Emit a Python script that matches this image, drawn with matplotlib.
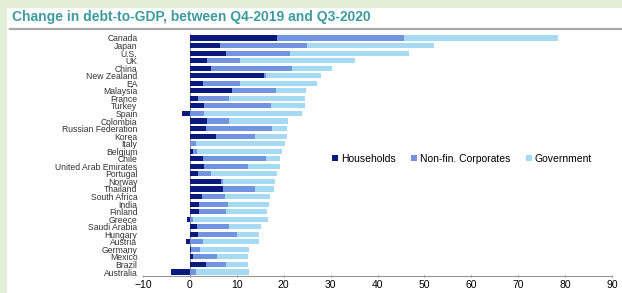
import numpy as np
import matplotlib.pyplot as plt
from matplotlib.patches import Rectangle

plt.rcParams['font.family'] = ['Liberation Sans', 'DejaVu Sans']

countries = ["Canada", "Japan", "U.S.", "UK", "China", "New Zealand", "EA",
             "Malaysia", "France", "Turkey", "Spain", "Colombia",
             "Russian Federation", "Korea", "Italy", "Belgium", "Chile",
             "United Arab Emirates", "Portugal", "Norway", "Thailand",
             "South Africa", "India", "Finland", "Greece", "Saudi Arabia",
             "Hungary", "Austria", "Germany", "Mexico", "Brazil", "Australia"]

households = [18.5, 6.5, 7.8, 3.7, 4.5, 15.8, 2.7, 9.0, 1.8, 2.9, -1.7, 3.7,
              3.4, 5.5, 0.1, 0.6, 2.8, 3.1, 1.8, 6.7, 7.1, 2.5, 2.0, 1.9,
              -0.6, 1.5, 1.7, -0.9, 0.2, 0.7, 3.4, -4.1]
corporates = [27.1, 18.4, 13.6, 6.9, 17.2, 0.5, 7.9, 9.3, 6.6, 14.4, 3.1, 4.7,
              14.1, 8.4, 1.1, 0.9, 13.4, 9.2, 2.7, 0.3, 6.8, 5.0, 6.2, 5.7,
              0.7, 6.9, 8.4, 2.7, 2.0, 5.1, 4.2, 1.2]
government = [32.8, 27.1, 25.3, 24.5, 8.6, 11.7, 16.5, 6.5, 16.2, 7.2, 20.9, 12.6,
              3.1, 6.7, 19.1, 18.2, 3.1, 7.0, 14.0, 11.1, 4.1, 9.6, 8.7, 8.8,
              15.9, 6.7, 4.7, 12.1, 10.4, 6.5, 4.7, 11.4]

c_house = '#0b1a7e'
c_corp = '#7193e0'
c_gov = '#a6daf2'

hh = np.array(households)
co = np.array(corporates)
gv = np.array(government)
base_pos = np.clip(hh, 0, None)
y = np.arange(len(countries))

fig = plt.figure(figsize=(6.22, 2.93), dpi=100)
fig.patch.set_facecolor('#e3eed9')
fig.add_artist(Rectangle((7 / 622, 0), 1, 1 - 8 / 293, transform=fig.transFigure,
                         facecolor='white', edgecolor='none', zorder=0))
fig.add_artist(plt.Line2D([10 / 622, 1], [1 - 28.5 / 293] * 2, transform=fig.transFigure,
                          color='#a8a8a8', lw=1.6))
fig.text(12 / 622, 1 - 16.5 / 293, "Change in debt-to-GDP, between Q4-2019 and Q3-2020",
         color='#3f9b9d', fontsize=10, fontweight='bold', va='center', ha='left')

ax = fig.add_axes([143 / 622, 1 - 275.8 / 293, 469 / 622, 241.6 / 293])
ax.set_facecolor('white')
h = 0.68
ax.barh(y, hh, height=h, color=c_house, label='Households', zorder=3)
ax.barh(y, co, left=base_pos, height=h, color=c_corp, label='Non-fin. Corporates', zorder=3)
ax.barh(y, gv, left=base_pos + co, height=h, color=c_gov, label='Government', zorder=3)

ax.set_xlim(-10, 90)
ax.set_ylim(len(countries) - 0.5, -0.5)
ax.set_xticks(range(-10, 91, 10))
ax.tick_params(axis='x', labelsize=7.5, length=2, direction='inout', color='#888888', pad=2)
ax.set_yticks(y)
ax.set_yticklabels(countries, fontsize=6.2, color='#333333')
ax.tick_params(axis='y', length=0, pad=4)
for s in ['top', 'right', 'left']:
    ax.spines[s].set_visible(False)
ax.spines['bottom'].set_color('#999999')
ax.axvline(0, color='#888888', lw=0.8, zorder=2)

ax.legend(loc='center', bbox_to_anchor=(0.68, 0.485), ncol=3, frameon=False, fontsize=7.5,
          handlelength=0.55, handleheight=0.55, handletextpad=0.3, columnspacing=1.5)

fig.savefig('out.png', dpi=100)
